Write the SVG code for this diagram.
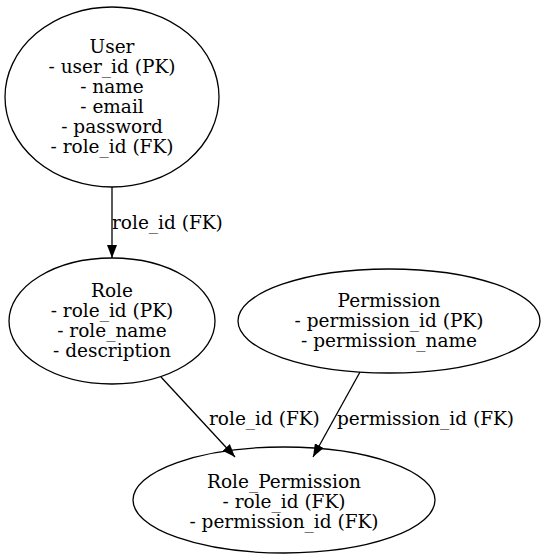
<svg xmlns="http://www.w3.org/2000/svg" width="545" height="560" viewBox="0 0 545 560">
<style>
.n ellipse{fill:none;stroke:#000;stroke-width:1.3}
text{font-family:"DejaVu Serif","Liberation Serif",serif;font-size:18.5px;fill:#000}
.c{text-anchor:middle}
.e line{stroke:#000;stroke-width:1.3}
</style>
<defs>
<marker id="ah" viewBox="0 0 13 10" refX="13" refY="5" markerWidth="13" markerHeight="10" markerUnits="userSpaceOnUse" orient="auto">
<path d="M0,0 L13,5 L0,10 z" fill="#000"/>
</marker>
</defs>
<rect width="545" height="560" fill="#fff"/>
<g id="edges" class="e">
<line x1="112" y1="187" x2="112" y2="258" marker-end="url(#ah)"/>
<text x="112" y="229">role_id (FK)</text>
<line x1="161" y1="377" x2="235" y2="457" marker-end="url(#ah)"/>
<text x="209" y="425">role_id (FK)</text>
<line x1="360" y1="372" x2="313" y2="457" marker-end="url(#ah)"/>
<text x="337" y="425">permission_id (FK)</text>
</g>
<g id="User" class="n">
<ellipse cx="112" cy="97" rx="107" ry="90"/>
<text class="c" x="112" y="53">User</text>
<text class="c" x="112" y="73">- user_id (PK)</text>
<text class="c" x="112" y="93">- name</text>
<text class="c" x="112" y="113">- email</text>
<text class="c" x="112" y="133">- password</text>
<text class="c" x="112" y="153">- role_id (FK)</text>
</g>
<g id="Role" class="n">
<ellipse cx="112" cy="321" rx="103" ry="63"/>
<text class="c" x="112" y="297">Role</text>
<text class="c" x="112" y="317">- role_id (PK)</text>
<text class="c" x="112" y="337">- role_name</text>
<text class="c" x="112" y="357">- description</text>
</g>
<g id="Permission" class="n">
<ellipse cx="389" cy="321" rx="151" ry="52"/>
<text class="c" x="389" y="307">Permission</text>
<text class="c" x="389" y="327">- permission_id (PK)</text>
<text class="c" x="389" y="347">- permission_name</text>
</g>
<g id="Role_Permission" class="n">
<ellipse cx="284" cy="500" rx="151" ry="53"/>
<text class="c" x="284" y="488">Role_Permission</text>
<text class="c" x="284" y="508">- role_id (FK)</text>
<text class="c" x="284" y="528">- permission_id (FK)</text>
</g>
</svg>
